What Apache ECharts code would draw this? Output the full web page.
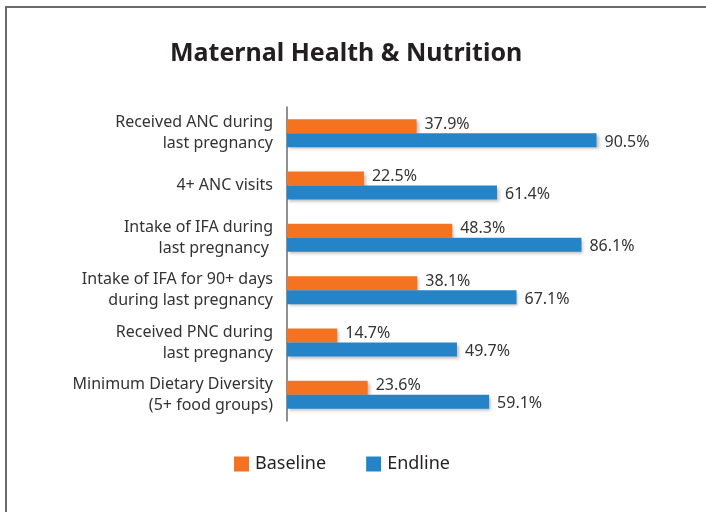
<!DOCTYPE html>
<html><head><meta charset="utf-8">
<script src="https://cdn.jsdelivr.net/npm/echarts@6/dist/echarts.min.js"></script>
<style>html,body{margin:0;padding:0;background:#fff}#c{width:706px;height:512px}</style>
</head><body><div id="c"></div>
<script>
const categories = ["Received ANC during\nlast pregnancy","4+ ANC visits","Intake of IFA during\nlast pregnancy ","Intake of IFA for 90+ days\nduring last pregnancy","Received PNC during\nlast pregnancy","Minimum Dietary Diversity\n(5+ food groups)"];
const baseline = [37.9,22.5,48.3,38.1,14.7,23.6];
const endline = [90.5,61.4,86.1,67.1,49.7,59.1];
const seriesNames = ["Baseline","Endline"];
const titleText = "Maternal Health & Nutrition";

const chart = echarts.init(document.getElementById('c'));
const font = "'Noto Sans', sans-serif";
const shadow = {shadowBlur:3, shadowOffsetX:2, shadowOffsetY:2, shadowColor:'rgba(0,0,0,0.25)'};
chart.setOption({
  animation:false,
  title:{text:titleText,left:165,top:36,textStyle:{fontFamily:font,fontWeight:'bold',fontSize:25,color:'#231f20'}},
  graphic:[
    {type:'polyline',shape:{points:[[6,512],[6,7],[706,7]]},style:{stroke:'#6b6b6b',lineWidth:2,fill:null}}
  ],
  legend:{left:229,top:450,itemWidth:15,itemHeight:15,itemGap:40,icon:'rect',
    textStyle:{fontFamily:font,fontSize:18,color:'#231f20',padding:[0,0,0,1]},data:seriesNames},
  grid:{left:287,top:107,width:342,height:314,containLabel:false},
  xAxis:{type:'value',min:0,max:100,show:false},
  yAxis:{type:'category',data:categories,inverse:true,
    axisLine:{show:true,lineStyle:{color:'#6b6b6b',width:1.5}},axisTick:{show:false},
    axisLabel:{fontFamily:font,fontSize:16,color:'#333',lineHeight:21,margin:14,align:'right'}},
  series:[
    {name:seriesNames[0],type:'bar',data:baseline,barWidth:14,barGap:'0%',
     itemStyle:Object.assign({color:'#F37321'},shadow),
     label:{show:true,position:'right',distance:8,offset:[0,-2],formatter:p=>p.value.toFixed(1)+'%',fontFamily:font,fontSize:16,color:'#333'}},
    {name:seriesNames[1],type:'bar',data:endline,barWidth:14,barGap:'0%',
     itemStyle:Object.assign({color:'#2584C8'},shadow),
     label:{show:true,position:'right',distance:8,offset:[0,2],formatter:p=>p.value.toFixed(1)+'%',fontFamily:font,fontSize:16,color:'#333'}}
  ]
});
</script></body></html>
